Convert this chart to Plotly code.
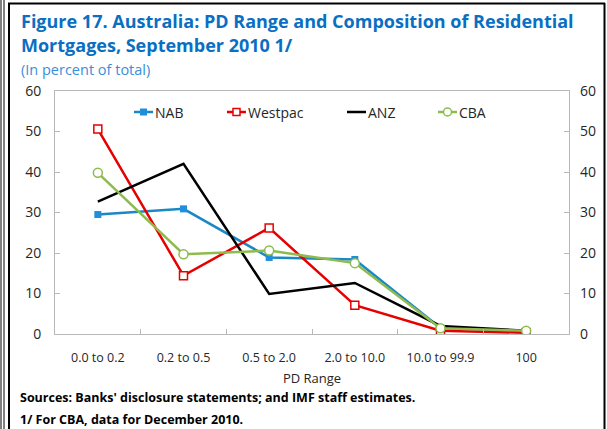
import plotly.graph_objects as go

categories = ["0.0 to 0.2", "0.2 to 0.5", "0.5 to 2.0", "2.0 to 10.0", "10.0 to 99.9", "100"]
nab = [29.5, 30.9, 18.9, 18.4, 1.5, 0.7]
westpac = [50.6, 14.4, 26.2, 7.1, 0.8, 0.3]
anz = [32.7, 42.0, 9.9, 12.6, 2.0, 0.8]
cba = [39.8, 19.7, 20.6, 17.5, 1.4, 0.8]
series_names = ["NAB", "Westpac", "ANZ", "CBA"]
y_ticks = [0, 10, 20, 30, 40, 50, 60]

W, H = 607, 429
L, R, T, B = 55, 569, 91, 334

def px(x):
    return (x - L) / (R - L)

def py(y):
    return (B - y) / (B - T)

FONT = "Open Sans"
BLUE_L, BLUE_M = "#1a88c4", "#1f8fdb"
RED = "#e60000"
GREEN = "#8dbb4e"

fig = go.Figure()
fig.add_trace(go.Scatter(x=categories, y=nab, name=series_names[0], mode="lines+markers",
                         line=dict(color=BLUE_L, width=2.5),
                         marker=dict(symbol="square", size=7, color=BLUE_M)))
fig.add_trace(go.Scatter(x=categories, y=westpac, name=series_names[1], mode="lines+markers",
                         line=dict(color=RED, width=2.5),
                         marker=dict(symbol="square", size=8, color="white",
                                     line=dict(color=RED, width=1.5))))
fig.add_trace(go.Scatter(x=categories, y=anz, name=series_names[2], mode="lines",
                         line=dict(color="#000000", width=2.5)))
fig.add_trace(go.Scatter(x=categories, y=cba, name=series_names[3], mode="lines+markers",
                         line=dict(color=GREEN, width=2.5),
                         marker=dict(symbol="circle", size=9, color="white",
                                     line=dict(color=GREEN, width=1.5))))
# invisible trace to activate right axis
fig.add_trace(go.Scatter(x=categories, y=nab, yaxis="y2", mode="lines",
                         line=dict(width=0, color="rgba(0,0,0,0)"),
                         showlegend=False, hoverinfo="skip"))

axis_font = dict(family=FONT, size=14, color="#262626")
cat_font = dict(family=FONT, size=12.5, color="#262626")
fig.update_layout(
    width=W, height=H,
    margin=dict(l=L, r=W - R, t=T, b=H - B, pad=0),
    paper_bgcolor="white", plot_bgcolor="white",
    showlegend=False,
    xaxis=dict(type="category", range=[-0.5, len(categories) - 0.5],
               showline=True, linecolor="#b8b8b8", linewidth=1,
               mirror=True, ticks="inside", ticklen=5, tickcolor="#b8b8b8",
               tickson="boundaries", showgrid=False, zeroline=False,
               tickfont=cat_font, ticklabelstandoff=12,
               title=dict(text="PD Range", font=dict(family=FONT, size=13, color="#262626"),
                          standoff=8)),
    yaxis=dict(range=[0, 60], tickvals=y_ticks, showline=True, linecolor="#b8b8b8",
               linewidth=1, mirror=True, ticks="inside", ticklen=5, tickcolor="#b8b8b8",
               showgrid=False, zeroline=False, tickfont=axis_font, ticklabelstandoff=10),
    yaxis2=dict(range=[0, 60], tickvals=y_ticks, overlaying="y", side="right",
                showline=False, ticks="inside", ticklen=5, tickcolor="#b8b8b8",
                showgrid=False, zeroline=False, tickfont=axis_font, ticklabelstandoff=10),
)

annotations = [
    dict(text="<b>Figure 17. Australia: PD Range and Composition of Residential</b>",
         x=px(19), y=py(21), font=dict(family=FONT, size=18, color="#0a6fc2")),
    dict(text="<b>Mortgages, September 2010 1/</b>",
         x=px(19), y=py(45), font=dict(family=FONT, size=18, color="#0a6fc2")),
    dict(text="(In percent of total)",
         x=px(19), y=py(69), font=dict(family=FONT, size=14.5, color="#3a8fd8")),
    dict(text="<b>Sources: Banks' disclosure statements; and IMF staff estimates.</b>",
         x=px(18), y=py(397), font=dict(family=FONT, size=12.5, color="#000000")),
    dict(text="<b>1/ For CBA, data for December 2010.</b>",
         x=px(18), y=py(419), font=dict(family=FONT, size=12.5, color="#000000")),
]

shapes = [
    dict(type="line", x0=px(1), x1=px(1), y0=py(0), y1=py(H), line=dict(color="black", width=1)),
    dict(type="line", x0=px(4), x1=px(4), y0=py(0), y1=py(H), line=dict(color="black", width=1)),
    dict(type="line", x0=px(9), x1=px(9), y0=py(3.5), y1=py(H), line=dict(color="black", width=2)),
    dict(type="line", x0=px(8), x1=px(605), y0=py(3.5), y1=py(3.5), line=dict(color="black", width=2)),
    dict(type="line", x0=px(604.5), x1=px(604.5), y0=py(3), y1=py(H), line=dict(color="black", width=2)),
]

# manual legend (line sample + marker + label)
leg_y = 112
leg_x0 = [134, 227, 347, 438]
leg_line = [BLUE_L, RED, "#000000", GREEN]
for i, name in enumerate(series_names):
    x0 = leg_x0[i]
    shapes.append(dict(type="line", x0=px(x0), x1=px(x0 + 19), y0=py(leg_y), y1=py(leg_y),
                       line=dict(color=leg_line[i], width=2.5)))
    cx = x0 + 9.5
    if name == "NAB":
        shapes.append(dict(type="rect", x0=px(cx - 3.5), x1=px(cx + 3.5),
                           y0=py(leg_y - 3.5), y1=py(leg_y + 3.5),
                           fillcolor=BLUE_M, line=dict(width=0)))
    elif name == "Westpac":
        shapes.append(dict(type="rect", x0=px(cx - 3.5), x1=px(cx + 3.5),
                           y0=py(leg_y - 3.5), y1=py(leg_y + 3.5),
                           fillcolor="white", line=dict(color=RED, width=1.5)))
    elif name == "CBA":
        shapes.append(dict(type="circle", x0=px(cx - 4), x1=px(cx + 4),
                           y0=py(leg_y - 4), y1=py(leg_y + 4),
                           fillcolor="white", line=dict(color=GREEN, width=1.5)))
    annotations.append(dict(text=name, x=px(x0 + 19), y=py(leg_y),
                            font=dict(family=FONT, size=14, color="#262626")))

for a in annotations:
    a.update(xref="paper", yref="paper", xanchor="left", yanchor="middle",
             showarrow=False, xshift=0)
for s in shapes:
    s.update(xref="paper", yref="paper", layer="above")
fig.update_layout(annotations=annotations, shapes=shapes)

fig.write_html("out.html", config={"displayModeBar": False},
               post_script="document.body.style.margin='0';")
